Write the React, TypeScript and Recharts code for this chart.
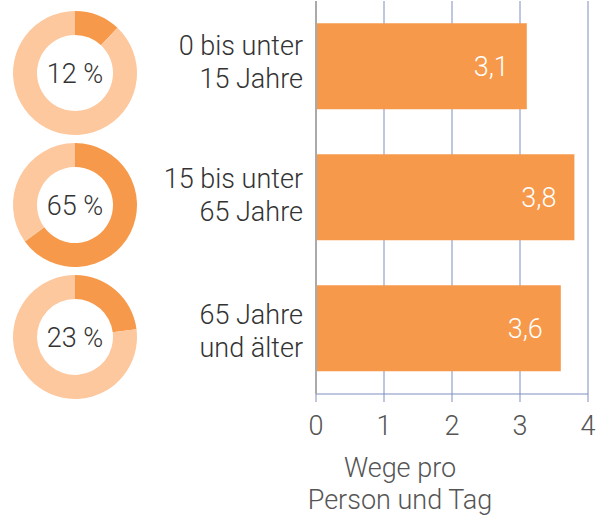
import React from "react";
import { BarChart, Bar, XAxis, YAxis, CartesianGrid, LabelList, PieChart, Pie, Cell, Label } from "recharts";

const categories = ["0 bis unter|15 Jahre", "15 bis unter|65 Jahre", "65 Jahre|und älter"];
const trips = [3.1, 3.8, 3.6];
const tripLabels = ["3,1", "3,8", "3,6"];
const shares = [12, 65, 23];
const xTicks = [0, 1, 2, 3, 4];

const barData = categories.map((c, i) => ({ cat: c, value: trips[i], label: tripLabels[i] }));

const FONT = "Roboto, 'Liberation Sans', sans-serif";
const DARK = "#F7994A";
const LIGHT = "#FDC89E";
const TICK_DY = [-12, -10, -5];

const YTick = (props: any) => {
  const { x, y, payload, index } = props;
  const lines = String(payload.value).split("|");
  const d = TICK_DY[index] ?? -9;
  return (
    <text x={x} y={y} textAnchor="end" fill="#333" fontSize={27} fontFamily={FONT} fontWeight={300}>
      <tspan x={x} dy={d}>{lines[0]}</tspan>
      <tspan x={x} dy={33}>{lines[1]}</tspan>
    </text>
  );
};

const XLabel = () => (
  <text textAnchor="middle" fill="#555" fontSize={27} fontFamily={FONT} fontWeight={300}>
    <tspan x={400} y={477}>Wege pro</tspan>
    <tspan x={400} y={509}>Person und Tag</tspan>
  </text>
);

export default function App() {
  const pieTops = [10, 142, 274];
  return (
    <div style={{ position: "absolute", left: 0, top: 0, width: 609, height: 516, background: "#fff" }}>
      <div style={{ position: "absolute", left: 0, top: 0 }}>
        <BarChart
          width={609}
          height={516}
          data={barData}
          layout="vertical"
          margin={{ top: 1, right: 21, bottom: 0, left: 0 }}
          barCategoryGap="17%"
        >
          <CartesianGrid horizontal={false} vertical={true} stroke="#7f8fc0" strokeWidth={1} />
          <XAxis
            type="number"
            domain={[0, 4]}
            ticks={xTicks}
            height={122}
            stroke="#7f8fc0"
            tickSize={8}
            tickMargin={14}
            tick={{ fill: "#555", fontSize: 27, fontFamily: FONT, fontWeight: 300 }}
            label={<XLabel />}
          />
          <YAxis
            type="category"
            dataKey="cat"
            width={316}
            stroke="#aaa"
            strokeWidth={2}
            tickLine={false}
            tickSize={6}
            tickMargin={7}
            tick={<YTick />}
          />
          <Bar dataKey="value" fill={DARK} isAnimationActive={false}>
            <LabelList
              dataKey="label"
              position="insideRight"
              offset={18}
              fill="#fff"
              fontSize={27}
              fontFamily={FONT}
              fontWeight={300}
            />
          </Bar>
        </BarChart>
      </div>
      {shares.map((s, i) => (
        <div key={i} style={{ position: "absolute", left: 0, top: pieTops[i] }}>
          <PieChart width={150} height={126} margin={{ top: 0, right: 0, bottom: 0, left: 0 }}>
            <Pie
              data={[{ name: "a", value: s }, { name: "b", value: 100 - s }]}
              dataKey="value"
              cx={75}
              cy={63}
              innerRadius={38}
              outerRadius={62}
              startAngle={90}
              endAngle={-270}
              stroke="none"
              isAnimationActive={false}
            >
              <Cell fill={DARK} />
              <Cell fill={LIGHT} />
              <Label
                position="center"
                value={`${s} %`}
                fill="#333"
                fontSize={27}
                fontFamily={FONT}
                fontWeight={300}
              />
            </Pie>
          </PieChart>
        </div>
      ))}
    </div>
  );
}
